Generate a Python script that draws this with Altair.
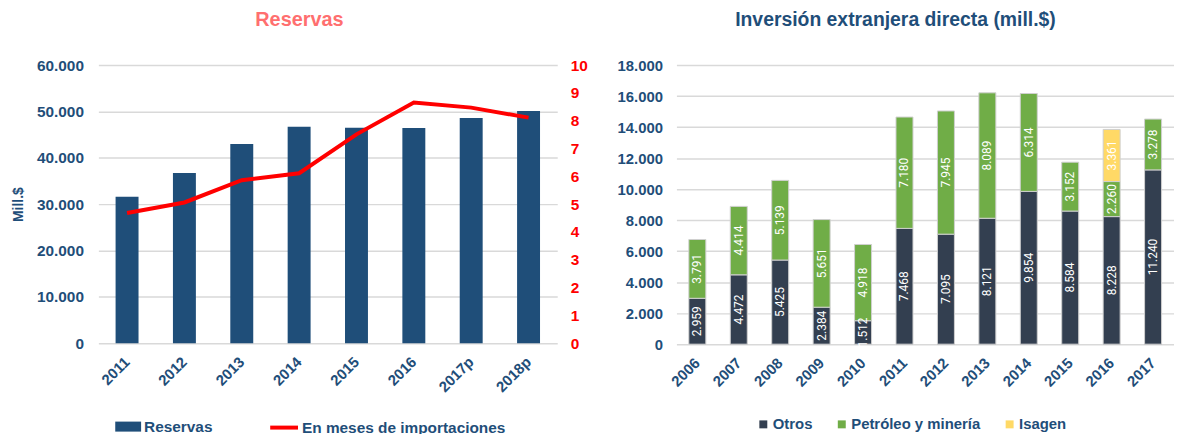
import altair as alt
import pandas as pd

FONT = "Liberation Sans"
NARROW = "Liberation Sans Narrow, Roboto, Liberation Sans"
BLUE = "#1F4E79"
RED = "#FF0000"
SALMON = "#FF6F6F"
GRID = "#D9D9D9"
LABEL_EXPR = "replace(format(datum.value, ','), ',', '.')"

# ---------------- Reservas ----------------
anios_res = ["2011", "2012", "2013", "2014", "2015", "2016", "2017p", "2018p"]
reservas = [31600, 36700, 43000, 46700, 46500, 46400, 48600, 50100]
meses_imp = [4.68, 5.06, 5.86, 6.11, 7.51, 8.65, 8.47, 8.11]
ticks_res = [0, 10000, 20000, 30000, 40000, 50000, 60000]
ticks_meses = [0, 1, 2, 3, 4, 5, 6, 7, 8, 9, 10]

# ---------------- IED ----------------
anios_ied = ["2006", "2007", "2008", "2009", "2010", "2011",
             "2012", "2013", "2014", "2015", "2016", "2017"]
otros = [2959, 4472, 5425, 2384, 1512, 7468, 7095, 8121, 9854, 8584, 8228, 11240]
petroleo = [3791, 4414, 5139, 5651, 4918, 7180, 7945, 8089, 6314, 3152, 2260, 3278]
isagen_anios = ["2016"]
isagen = [3361]
series_ied = ["Otros", "Petróleo y minería", "Isagen"]
colores_ied = ["#333F50", "#70AD47", "#FFD966"]
ticks_ied = [0, 2000, 4000, 6000, 8000, 10000, 12000, 14000, 16000, 18000]

df_res = pd.DataFrame({
    "anio": anios_res,
    "reservas": reservas,
    "meses": meses_imp,
    "s_bar": ["Reservas"] * len(anios_res),
    "s_line": ["En meses de importaciones"] * len(anios_res),
})

rows = []
for a, v in zip(anios_ied, otros):
    rows.append({"anio": a, "serie": "Otros", "orden": 0, "valor": v})
for a, v in zip(anios_ied, petroleo):
    rows.append({"anio": a, "serie": "Petróleo y minería", "orden": 1, "valor": v})
for a, v in zip(isagen_anios, isagen):
    rows.append({"anio": a, "serie": "Isagen", "orden": 2, "valor": v})
df_ied = pd.DataFrame(rows)


def x_axis():
    return alt.Axis(labelAngle=-45, labelAlign="right", labelBaseline="middle",
                    labelFont=FONT, labelFontSize=15, labelFontWeight="bold",
                    labelColor=BLUE, labelPadding=16, ticks=False, tickSize=0,
                    domain=False, grid=False)


def y_axis_ied():
    return alt.Axis(values=ticks_ied, labelExpr=LABEL_EXPR, labelFont=FONT,
                    labelFontSize=15, labelFontWeight="bold", labelColor=BLUE,
                    labelPadding=14, ticks=False, tickSize=0, domain=False,
                    grid=True, gridColor=GRID, gridWidth=1.5)


x_res = alt.X("anio:N", sort=anios_res, title=None,
              scale=alt.Scale(paddingInner=0.6, paddingOuter=0.3), axis=x_axis())

bars_res = alt.Chart(df_res).mark_bar().encode(
    x=x_res,
    y=alt.Y("reservas:Q", title="Mill.$",
            scale=alt.Scale(domain=[0, 60000], nice=False),
            axis=alt.Axis(values=ticks_res, labelExpr=LABEL_EXPR, labelFont=FONT,
                          labelFontSize=15.5, labelFontWeight="bold", labelColor=BLUE,
                          labelPadding=15, ticks=False, tickSize=0, domain=False,
                          grid=True, gridColor=GRID, gridWidth=1.5,
                          titleFont=FONT, titleFontSize=14, titleFontWeight="bold",
                          titleColor=BLUE, titlePadding=11)),
    color=alt.Color("s_bar:N", scale=alt.Scale(domain=["Reservas"], range=[BLUE]),
                    legend=alt.Legend(orient="none", legendX=16, legendY=350, title=None,
                                      symbolType="M-0.93,-0.36H0.93V0.36H-0.93Z",
                                      symbolSize=784, symbolStrokeWidth=0,
                                      labelFont=FONT, labelFontSize=15.5,
                                      labelFontWeight="bold", labelColor=BLUE,
                                      labelOffset=2, labelLimit=400)),
)

line_res = alt.Chart(df_res).mark_line(strokeWidth=4).encode(
    x=x_res,
    y=alt.Y("meses:Q", title=None,
            scale=alt.Scale(domain=[0, 10], nice=False),
            axis=alt.Axis(orient="right", values=ticks_meses, labelFont=FONT,
                          labelFontSize=15.5, labelFontWeight="bold", labelColor=RED,
                          labelPadding=13, ticks=False, tickSize=0, domain=False,
                          grid=False)),
    stroke=alt.Stroke("s_line:N",
                      scale=alt.Scale(domain=["En meses de importaciones"], range=[RED]),
                      legend=alt.Legend(orient="none", legendX=171, legendY=349, title=None,
                                        symbolType="stroke", symbolSize=784,
                                        symbolStrokeWidth=4,
                                        labelFont=FONT, labelFontSize=15.5,
                                        labelFontWeight="bold", labelColor=BLUE,
                                        labelOffset=2, labelLimit=400)),
)

left = alt.layer(bars_res, line_res).resolve_scale(y="independent").properties(
    width=462, height=280,
    title=alt.Title("Reservas", font=FONT, fontSize=20, fontWeight="bold",
                    color=SALMON, anchor="middle", frame="bounds", offset=28),
)

# ---------------- right chart ----------------
x_ied = alt.X("anio:N", sort=anios_ied, title=None,
              scale=alt.Scale(paddingInner=0.59, paddingOuter=0.3), axis=x_axis())

base_ied = alt.Chart(df_ied).transform_stack(
    stack="valor", groupby=["anio"], as_=["v0", "v1"],
    sort=[alt.SortField("orden", order="ascending")],
).transform_calculate(
    mid="(datum.v0 + datum.v1) / 2",
    etiqueta="replace(format(datum.valor, ','), ',', '.')",
)

y_scale_ied = alt.Scale(domain=[0, 18000], nice=False)

bars_ied = base_ied.mark_bar(stroke="#D0D0D0", strokeWidth=1).encode(
    x=x_ied,
    y=alt.Y("v0:Q", title=None, scale=y_scale_ied, axis=y_axis_ied()),
    y2="v1:Q",
    color=alt.Color("serie:N", sort=series_ied,
                    scale=alt.Scale(domain=series_ied, range=colores_ied),
                    legend=alt.Legend(orient="none", legendX=80, legendY=354, title=None,
                                      direction="horizontal", columns=3,
                                      symbolType="square", symbolSize=64,
                                      symbolStrokeWidth=0, columnPadding=21,
                                      labelFont=FONT, labelFontSize=15,
                                      labelFontWeight="bold", labelColor=BLUE,
                                      labelOffset=2, labelLimit=400)),
)

text_ied = base_ied.mark_text(angle=270, color="white", font=NARROW, fontSize=12,
                              align="center", baseline="middle").encode(
    x=x_ied,
    y=alt.Y("mid:Q", title=None, scale=y_scale_ied, axis=y_axis_ied()),
    text="etiqueta:N",
)

right = alt.layer(bars_ied, text_ied).properties(
    width=501, height=281,
    title=alt.Title("Inversión extranjera directa (mill.$)", font=FONT, fontSize=19.5,
                    fontWeight="bold", color=BLUE, anchor="middle", frame="bounds",
                    offset=28),
)

chart = alt.hconcat(left, right, spacing=29).resolve_scale(
    color="independent", stroke="independent"
).resolve_legend(
    color="independent", stroke="independent"
).properties(
    padding={"left": 3, "top": 0, "right": 0, "bottom": 0}
).configure_view(stroke=None)

chart.save("out.html", embed_options={"renderer": "svg", "actions": False})
